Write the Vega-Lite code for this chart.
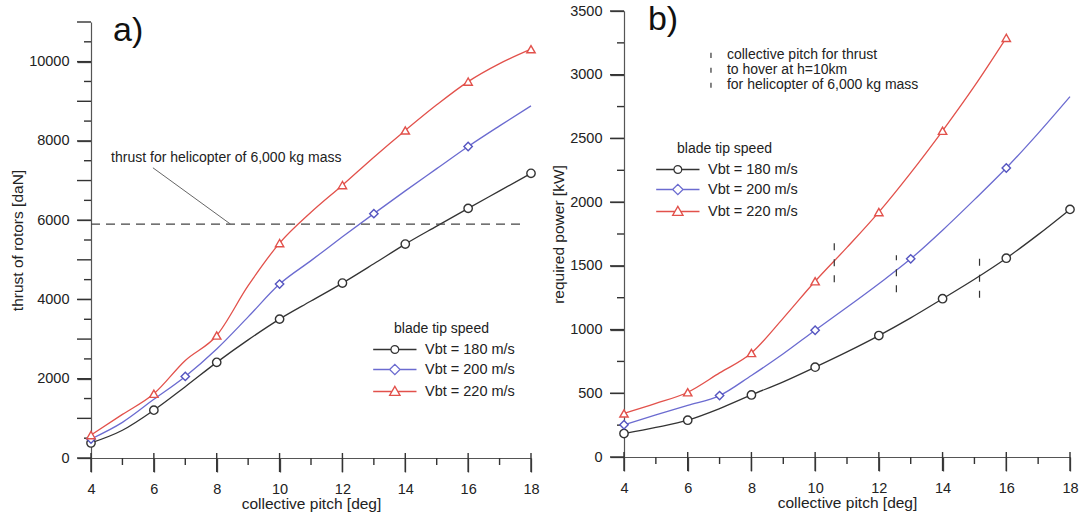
{
  "$schema": "https://vega.github.io/schema/vega-lite/v6.json",
  "padding": {"left": 10, "top": 3, "right": 5, "bottom": 0},
  "spacing": 11,
  "resolve": {"scale": {"color": "independent"}, "legend": {"color": "independent"}},
  "config": {
    "font": "Liberation Sans",
    "view": {"stroke": null},
    "axis": {"grid": false, "ticks": true, "tickColor": "#444", "tickWidth": 1.3, "domainColor": "#555", "domainWidth": 1.2, "labelFontSize": 14.5, "labelColor": "#222", "titleFontSize": 15.5, "titleFontWeight": "normal", "titleColor": "#222", "labelFont": "Liberation Sans", "titleFont": "Liberation Sans", "labelOverlap": false, "labelFlush": false},
    "legend": {"padding": 0, "titleFontSize": 14, "titleFontWeight": "normal", "titleColor": "#222", "titlePadding": 4, "titleAnchor": "start", "labelFontSize": 14.5, "labelColor": "#222", "symbolSize": 300, "symbolStrokeWidth": 1.3, "labelOffset": 12, "rowPadding": 4, "labelFont": "Liberation Sans", "titleFont": "Liberation Sans"}
  },
  "datasets": {
    "thrustLine": [
      {"pitch": 4, "value": 380, "speed": "180"}, {"pitch": 5, "value": 700, "speed": "180"}, {"pitch": 6, "value": 1207, "speed": "180"}, {"pitch": 7, "value": 1800, "speed": "180"}, {"pitch": 8, "value": 2413, "speed": "180"}, {"pitch": 9, "value": 2980, "speed": "180"}, {"pitch": 10, "value": 3504, "speed": "180"}, {"pitch": 11, "value": 3960, "speed": "180"}, {"pitch": 12, "value": 4413, "speed": "180"}, {"pitch": 13, "value": 4900, "speed": "180"}, {"pitch": 14, "value": 5397, "speed": "180"}, {"pitch": 15, "value": 5850, "speed": "180"}, {"pitch": 16, "value": 6298, "speed": "180"}, {"pitch": 17, "value": 6740, "speed": "180"}, {"pitch": 18, "value": 7182, "speed": "180"},
      {"pitch": 4, "value": 480, "speed": "200"}, {"pitch": 5, "value": 900, "speed": "200"}, {"pitch": 6, "value": 1480, "speed": "200"}, {"pitch": 7, "value": 2058, "speed": "200"}, {"pitch": 8, "value": 2750, "speed": "200"}, {"pitch": 9, "value": 3560, "speed": "200"}, {"pitch": 10, "value": 4388, "speed": "200"}, {"pitch": 11, "value": 4980, "speed": "200"}, {"pitch": 12, "value": 5580, "speed": "200"}, {"pitch": 13, "value": 6165, "speed": "200"}, {"pitch": 14, "value": 6740, "speed": "200"}, {"pitch": 15, "value": 7300, "speed": "200"}, {"pitch": 16, "value": 7860, "speed": "200"}, {"pitch": 17, "value": 8380, "speed": "200"}, {"pitch": 18, "value": 8884, "speed": "200"},
      {"pitch": 4, "value": 578, "speed": "220"}, {"pitch": 5, "value": 1100, "speed": "220"}, {"pitch": 6, "value": 1620, "speed": "220"}, {"pitch": 7, "value": 2460, "speed": "220"}, {"pitch": 8, "value": 3091, "speed": "220"}, {"pitch": 9, "value": 4347, "speed": "220"}, {"pitch": 10, "value": 5421, "speed": "220"}, {"pitch": 11, "value": 6200, "speed": "220"}, {"pitch": 12, "value": 6884, "speed": "220"}, {"pitch": 13, "value": 7590, "speed": "220"}, {"pitch": 14, "value": 8264, "speed": "220"}, {"pitch": 15, "value": 8910, "speed": "220"}, {"pitch": 16, "value": 9496, "speed": "220"}, {"pitch": 17, "value": 9950, "speed": "220"}, {"pitch": 18, "value": 10314, "speed": "220"}
    ],
    "thrustPts": [
      {"pitch": 4, "value": 380, "speed": "180"}, {"pitch": 6, "value": 1207, "speed": "180"}, {"pitch": 8, "value": 2413, "speed": "180"}, {"pitch": 10, "value": 3504, "speed": "180"}, {"pitch": 12, "value": 4413, "speed": "180"}, {"pitch": 14, "value": 5397, "speed": "180"}, {"pitch": 16, "value": 6298, "speed": "180"}, {"pitch": 18, "value": 7182, "speed": "180"},
      {"pitch": 4, "value": 480, "speed": "200"}, {"pitch": 7, "value": 2058, "speed": "200"}, {"pitch": 10, "value": 4388, "speed": "200"}, {"pitch": 13, "value": 6165, "speed": "200"}, {"pitch": 16, "value": 7860, "speed": "200"},
      {"pitch": 4, "value": 578, "speed": "220"}, {"pitch": 6, "value": 1620, "speed": "220"}, {"pitch": 8, "value": 3091, "speed": "220"}, {"pitch": 10, "value": 5421, "speed": "220"}, {"pitch": 12, "value": 6884, "speed": "220"}, {"pitch": 14, "value": 8264, "speed": "220"}, {"pitch": 16, "value": 9496, "speed": "220"}, {"pitch": 18, "value": 10314, "speed": "220"}
    ],
    "powerLine": [
      {"pitch": 4, "value": 184, "speed": "180"}, {"pitch": 5, "value": 232, "speed": "180"}, {"pitch": 6, "value": 289, "speed": "180"}, {"pitch": 7, "value": 380, "speed": "180"}, {"pitch": 8, "value": 487, "speed": "180"}, {"pitch": 9, "value": 590, "speed": "180"}, {"pitch": 10, "value": 705, "speed": "180"}, {"pitch": 11, "value": 825, "speed": "180"}, {"pitch": 12, "value": 953, "speed": "180"}, {"pitch": 13, "value": 1092, "speed": "180"}, {"pitch": 14, "value": 1242, "speed": "180"}, {"pitch": 15, "value": 1395, "speed": "180"}, {"pitch": 16, "value": 1560, "speed": "180"}, {"pitch": 17, "value": 1745, "speed": "180"}, {"pitch": 18, "value": 1943, "speed": "180"},
      {"pitch": 4, "value": 253, "speed": "200"}, {"pitch": 5, "value": 330, "speed": "200"}, {"pitch": 6, "value": 405, "speed": "200"}, {"pitch": 7, "value": 482, "speed": "200"}, {"pitch": 8, "value": 640, "speed": "200"}, {"pitch": 9, "value": 810, "speed": "200"}, {"pitch": 10, "value": 995, "speed": "200"}, {"pitch": 11, "value": 1175, "speed": "200"}, {"pitch": 12, "value": 1360, "speed": "200"}, {"pitch": 13, "value": 1555, "speed": "200"}, {"pitch": 14, "value": 1780, "speed": "200"}, {"pitch": 15, "value": 2020, "speed": "200"}, {"pitch": 16, "value": 2268, "speed": "200"}, {"pitch": 17, "value": 2540, "speed": "200"}, {"pitch": 18, "value": 2828, "speed": "200"},
      {"pitch": 4, "value": 342, "speed": "220"}, {"pitch": 5, "value": 420, "speed": "220"}, {"pitch": 6, "value": 508, "speed": "220"}, {"pitch": 7, "value": 660, "speed": "220"}, {"pitch": 8, "value": 816, "speed": "220"}, {"pitch": 9, "value": 1090, "speed": "220"}, {"pitch": 10, "value": 1379, "speed": "220"}, {"pitch": 11, "value": 1645, "speed": "220"}, {"pitch": 12, "value": 1922, "speed": "220"}, {"pitch": 13, "value": 2230, "speed": "220"}, {"pitch": 14, "value": 2560, "speed": "220"}, {"pitch": 15, "value": 2910, "speed": "220"}, {"pitch": 16, "value": 3289, "speed": "220"}
    ],
    "powerPts": [
      {"pitch": 4, "value": 184, "speed": "180"}, {"pitch": 6, "value": 289, "speed": "180"}, {"pitch": 8, "value": 487, "speed": "180"}, {"pitch": 10, "value": 705, "speed": "180"}, {"pitch": 12, "value": 953, "speed": "180"}, {"pitch": 14, "value": 1242, "speed": "180"}, {"pitch": 16, "value": 1560, "speed": "180"}, {"pitch": 18, "value": 1943, "speed": "180"},
      {"pitch": 4, "value": 253, "speed": "200"}, {"pitch": 7, "value": 482, "speed": "200"}, {"pitch": 10, "value": 995, "speed": "200"}, {"pitch": 13, "value": 1555, "speed": "200"}, {"pitch": 16, "value": 2268, "speed": "200"},
      {"pitch": 4, "value": 342, "speed": "220"}, {"pitch": 6, "value": 508, "speed": "220"}, {"pitch": 8, "value": 816, "speed": "220"}, {"pitch": 10, "value": 1379, "speed": "220"}, {"pitch": 12, "value": 1922, "speed": "220"}, {"pitch": 14, "value": 2560, "speed": "220"}, {"pitch": 16, "value": 3289, "speed": "220"}
    ]
  },
  "hconcat": [
    {
      "spacing": 2,
      "vconcat": [
        {
          "width": 440,
          "height": 1,
          "data": {"values": [{}]},
          "mark": {"type": "rule", "opacity": 0},
          "encoding": {}
        },
        {
          "width": 440,
          "height": 436,
          "layer": [
            {
              "data": {"name": "thrustLine"},
              "mark": {"type": "line", "interpolate": "monotone", "strokeWidth": 1.3},
              "encoding": {
                "x": {"field": "pitch", "type": "quantitative", "scale": {"domain": [4, 18], "nice": false},
                  "axis": {"orient": "bottom", "title": "collective pitch [deg]", "values": [4, 6, 8, 10, 12, 14, 16, 18], "tickSize": 14, "labelPadding": 10, "titlePadding": 1}},
                "y": {"field": "value", "type": "quantitative", "scale": {"domain": [0, 11000], "nice": false},
                  "axis": {"orient": "left", "title": "thrust of rotors [daN]", "format": "d", "values": [0, 1000, 2000, 3000, 4000, 5000, 6000, 7000, 8000, 9000, 10000, 11000], "tickSize": 14, "labelPadding": 8, "titlePadding": 3}},
                "color": {"field": "speed", "type": "nominal", "scale": {"domain": ["180", "200", "220"], "range": ["#333333", "#6b6bd0", "#e2514b"]},
                  "legend": {"title": "blade tip speed", "orient": "none", "legendX": 303, "legendY": 311, "labelExpr": "'Vbt = ' + datum.label + ' m/s'",
                    "encode": {"symbols": {"update": {"fill": {"value": "transparent"}, "shape": {"signal": "datum.value === '180' ? 'M-3.5,0H-1.45M-0.55,0H1.5M-1.45,0A0.45,0.45,0,1,0,-0.55,0A0.45,0.45,0,1,0,-1.45,0' : datum.value === '200' ? 'M-3.5,0H-1.6M-0.4,0H1.5M-1.6,0L-1,-0.6L-0.4,0L-1,0.6Z' : 'M-3.5,0H-1.343M-0.657,0H1.5M-1.6,0.45L-1,-0.6L-0.4,0.45Z'"}}}}}}
              }
            },
            {
              "data": {"values": [{"pitch": 4, "value": 126, "value2": -353}, {"pitch": 6, "value": 126, "value2": -353}, {"pitch": 8, "value": 126, "value2": -353}, {"pitch": 10, "value": 126, "value2": -353}, {"pitch": 12, "value": 126, "value2": -353}, {"pitch": 14, "value": 126, "value2": -353}, {"pitch": 16, "value": 126, "value2": -353}, {"pitch": 18, "value": 126, "value2": -353},
                {"pitch": 5, "value": 0, "value2": -177}, {"pitch": 7, "value": 0, "value2": -177}, {"pitch": 9, "value": 0, "value2": -177}, {"pitch": 11, "value": 0, "value2": -177}, {"pitch": 13, "value": 0, "value2": -177}, {"pitch": 15, "value": 0, "value2": -177}, {"pitch": 17, "value": 0, "value2": -177}]},
              "mark": {"type": "rule", "color": "#333", "strokeWidth": 1.4},
              "encoding": {"x": {"field": "pitch", "type": "quantitative"}, "y": {"field": "value", "type": "quantitative"}, "y2": {"field": "value2"}}
            },
            {
              "data": {"values": [{"pitch": 4, "pitch2": 3.555, "value": 0}, {"pitch": 4, "pitch2": 3.555, "value": 1000}, {"pitch": 4, "pitch2": 3.555, "value": 2000}, {"pitch": 4, "pitch2": 3.555, "value": 3000}, {"pitch": 4, "pitch2": 3.555, "value": 4000}, {"pitch": 4, "pitch2": 3.555, "value": 5000}, {"pitch": 4, "pitch2": 3.555, "value": 6000}, {"pitch": 4, "pitch2": 3.555, "value": 7000}, {"pitch": 4, "pitch2": 3.555, "value": 8000}, {"pitch": 4, "pitch2": 3.555, "value": 9000}, {"pitch": 4, "pitch2": 3.555, "value": 10000}, {"pitch": 4, "pitch2": 3.555, "value": 11000},
                {"pitch": 4, "pitch2": 3.777, "value": 500}, {"pitch": 4, "pitch2": 3.777, "value": 1500}, {"pitch": 4, "pitch2": 3.777, "value": 2500}, {"pitch": 4, "pitch2": 3.777, "value": 3500}, {"pitch": 4, "pitch2": 3.777, "value": 4500}, {"pitch": 4, "pitch2": 3.777, "value": 5500}, {"pitch": 4, "pitch2": 3.777, "value": 6500}, {"pitch": 4, "pitch2": 3.777, "value": 7500}, {"pitch": 4, "pitch2": 3.777, "value": 8500}, {"pitch": 4, "pitch2": 3.777, "value": 9500}, {"pitch": 4, "pitch2": 3.777, "value": 10500}]},
              "mark": {"type": "rule", "color": "#333", "strokeWidth": 1.4},
              "encoding": {"x": {"field": "pitch", "type": "quantitative"}, "x2": {"field": "pitch2"}, "y": {"field": "value", "type": "quantitative"}}
            },
            {
              "data": {"name": "thrustPts"},
              "transform": [{"filter": "datum.speed === '180'"}],
              "mark": {"type": "point", "shape": "circle", "filled": false, "fill": "white", "stroke": "#333333", "size": 70, "strokeWidth": 1.4, "opacity": 1},
              "encoding": {"x": {"field": "pitch", "type": "quantitative"}, "y": {"field": "value", "type": "quantitative"}}
            },
            {
              "data": {"name": "thrustPts"},
              "transform": [{"filter": "datum.speed === '200'"}],
              "mark": {"type": "point", "shape": "diamond", "filled": false, "fill": "white", "stroke": "#5555c0", "size": 70, "strokeWidth": 1.4, "opacity": 1},
              "encoding": {"x": {"field": "pitch", "type": "quantitative"}, "y": {"field": "value", "type": "quantitative"}}
            },
            {
              "data": {"name": "thrustPts"},
              "transform": [{"filter": "datum.speed === '220'"}],
              "mark": {"type": "point", "shape": "triangle-up", "filled": false, "fill": "white", "stroke": "#e2514b", "size": 70, "strokeWidth": 1.4, "opacity": 1},
              "encoding": {"x": {"field": "pitch", "type": "quantitative"}, "y": {"field": "value", "type": "quantitative"}}
            },
            {
              "data": {"values": [{"pitch": 4, "pitch2": 17.8, "value": 5900}]},
              "mark": {"type": "rule", "strokeDash": [9, 6], "color": "#444", "strokeWidth": 1.4},
              "encoding": {"x": {"field": "pitch", "type": "quantitative"}, "x2": {"field": "pitch2"}, "y": {"field": "value", "type": "quantitative"}}
            },
            {
              "data": {"values": [{"pitch": 5.97, "value": 7322, "pitch2": 8.44, "value2": 5900}]},
              "mark": {"type": "rule", "color": "#666", "strokeWidth": 1},
              "encoding": {"x": {"field": "pitch", "type": "quantitative"}, "x2": {"field": "pitch2"}, "y": {"field": "value", "type": "quantitative"}, "y2": {"field": "value2"}}
            },
            {
              "data": {"values": [{"pitch": 4.64, "value": 7570, "label": "thrust for helicopter of  6,000 kg mass"}]},
              "mark": {"type": "text", "align": "left", "baseline": "middle", "fontSize": 14, "color": "#222"},
              "encoding": {"x": {"field": "pitch", "type": "quantitative"}, "y": {"field": "value", "type": "quantitative"}, "text": {"field": "label"}}
            },
            {
              "data": {"values": [{"pitch": 4.7, "value": 10520, "label": "a)"}]},
              "mark": {"type": "text", "align": "left", "baseline": "alphabetic", "fontSize": 34, "color": "#111"},
              "encoding": {"x": {"field": "pitch", "type": "quantitative"}, "y": {"field": "value", "type": "quantitative"}, "text": {"field": "label"}}
            }
          ]
        }
      ]
    },
    {
      "width": 446,
      "height": 446,
      "layer": [
        {
          "data": {"name": "powerLine"},
          "mark": {"type": "line", "interpolate": "monotone", "strokeWidth": 1.3},
          "encoding": {
            "x": {"field": "pitch", "type": "quantitative", "scale": {"domain": [4, 18], "nice": false},
              "axis": {"orient": "bottom", "title": "collective pitch [deg]", "values": [4, 6, 8, 10, 12, 14, 16, 18], "tickSize": 14, "labelPadding": 10, "titlePadding": 1}},
            "y": {"field": "value", "type": "quantitative", "scale": {"domain": [0, 3500], "nice": false},
              "axis": {"orient": "left", "title": "required power [kW]", "format": "d", "values": [0, 500, 1000, 1500, 2000, 2500, 3000, 3500], "tickSize": 14, "labelPadding": 8, "titlePadding": 3}},
            "color": {"field": "speed", "type": "nominal", "scale": {"domain": ["180", "200", "220"], "range": ["#333333", "#6b6bd0", "#e2514b"]},
              "legend": {"title": "blade tip speed", "orient": "none", "legendX": 53, "legendY": 131, "labelExpr": "'Vbt = ' + datum.label + ' m/s'",
                "encode": {"symbols": {"update": {"fill": {"value": "transparent"}, "shape": {"signal": "datum.value === '180' ? 'M-3.5,0H-1.45M-0.55,0H1.5M-1.45,0A0.45,0.45,0,1,0,-0.55,0A0.45,0.45,0,1,0,-1.45,0' : datum.value === '200' ? 'M-3.5,0H-1.6M-0.4,0H1.5M-1.6,0L-1,-0.6L-0.4,0L-1,0.6Z' : 'M-3.5,0H-1.343M-0.657,0H1.5M-1.6,0.45L-1,-0.6L-0.4,0.45Z'"}}}}}}
          }
        },
        {
          "data": {"values": [{"pitch": 4, "value": 39, "value2": -110}, {"pitch": 6, "value": 39, "value2": -110}, {"pitch": 8, "value": 39, "value2": -110}, {"pitch": 10, "value": 39, "value2": -110}, {"pitch": 12, "value": 39, "value2": -110}, {"pitch": 14, "value": 39, "value2": -110}, {"pitch": 16, "value": 39, "value2": -110}, {"pitch": 18, "value": 39, "value2": -110},
            {"pitch": 5, "value": 0, "value2": -55}, {"pitch": 7, "value": 0, "value2": -55}, {"pitch": 9, "value": 0, "value2": -55}, {"pitch": 11, "value": 0, "value2": -55}, {"pitch": 13, "value": 0, "value2": -55}, {"pitch": 15, "value": 0, "value2": -55}, {"pitch": 17, "value": 0, "value2": -55}]},
          "mark": {"type": "rule", "color": "#333", "strokeWidth": 1.4},
          "encoding": {"x": {"field": "pitch", "type": "quantitative"}, "y": {"field": "value", "type": "quantitative"}, "y2": {"field": "value2"}}
        },
        {
          "data": {"values": [{"pitch": 4, "pitch2": 3.56, "value": 0}, {"pitch": 4, "pitch2": 3.56, "value": 500}, {"pitch": 4, "pitch2": 3.56, "value": 1000}, {"pitch": 4, "pitch2": 3.56, "value": 1500}, {"pitch": 4, "pitch2": 3.56, "value": 2000}, {"pitch": 4, "pitch2": 3.56, "value": 2500}, {"pitch": 4, "pitch2": 3.56, "value": 3000}, {"pitch": 4, "pitch2": 3.56, "value": 3500},
            {"pitch": 4, "pitch2": 3.78, "value": 250}, {"pitch": 4, "pitch2": 3.78, "value": 750}, {"pitch": 4, "pitch2": 3.78, "value": 1250}, {"pitch": 4, "pitch2": 3.78, "value": 1750}, {"pitch": 4, "pitch2": 3.78, "value": 2250}, {"pitch": 4, "pitch2": 3.78, "value": 2750}, {"pitch": 4, "pitch2": 3.78, "value": 3250}]},
          "mark": {"type": "rule", "color": "#333", "strokeWidth": 1.4},
          "encoding": {"x": {"field": "pitch", "type": "quantitative"}, "x2": {"field": "pitch2"}, "y": {"field": "value", "type": "quantitative"}}
        },
        {
          "data": {"name": "powerPts"},
          "transform": [{"filter": "datum.speed === '180'"}],
          "mark": {"type": "point", "shape": "circle", "filled": false, "fill": "white", "stroke": "#333333", "size": 70, "strokeWidth": 1.4, "opacity": 1},
          "encoding": {"x": {"field": "pitch", "type": "quantitative"}, "y": {"field": "value", "type": "quantitative"}}
        },
        {
          "data": {"name": "powerPts"},
          "transform": [{"filter": "datum.speed === '200'"}],
          "mark": {"type": "point", "shape": "diamond", "filled": false, "fill": "white", "stroke": "#5555c0", "size": 70, "strokeWidth": 1.4, "opacity": 1},
          "encoding": {"x": {"field": "pitch", "type": "quantitative"}, "y": {"field": "value", "type": "quantitative"}}
        },
        {
          "data": {"name": "powerPts"},
          "transform": [{"filter": "datum.speed === '220'"}],
          "mark": {"type": "point", "shape": "triangle-up", "filled": false, "fill": "white", "stroke": "#e2514b", "size": 70, "strokeWidth": 1.4, "opacity": 1},
          "encoding": {"x": {"field": "pitch", "type": "quantitative"}, "y": {"field": "value", "type": "quantitative"}}
        },
        {
          "data": {"values": [{"pitch": 10.6, "value": 1371, "value2": 1677}, {"pitch": 12.55, "value": 1292, "value2": 1583}, {"pitch": 15.16, "value": 1250, "value2": 1560}]},
          "mark": {"type": "rule", "strokeDash": [7, 9], "color": "#333", "strokeWidth": 1.2},
          "encoding": {"x": {"field": "pitch", "type": "quantitative"}, "y": {"field": "value", "type": "quantitative"}, "y2": {"field": "value2"}}
        },
        {
          "data": {"values": [{"pitch": 6.73, "value": 3132, "value2": 3172}, {"pitch": 6.73, "value": 3015, "value2": 3055}, {"pitch": 6.73, "value": 2897, "value2": 2937}]},
          "mark": {"type": "rule", "color": "#333", "strokeWidth": 1.2},
          "encoding": {"x": {"field": "pitch", "type": "quantitative"}, "y": {"field": "value", "type": "quantitative"}, "y2": {"field": "value2"}}
        },
        {
          "data": {"values": [{"pitch": 7.23, "value": 3152, "label": "collective pitch for thrust"}, {"pitch": 7.23, "value": 3035, "label": "to hover at h=10km"}, {"pitch": 7.23, "value": 2917, "label": "for helicopter of 6,000 kg mass"}]},
          "mark": {"type": "text", "align": "left", "baseline": "middle", "fontSize": 14, "color": "#222"},
          "encoding": {"x": {"field": "pitch", "type": "quantitative"}, "y": {"field": "value", "type": "quantitative"}, "text": {"field": "label"}}
        },
        {
          "data": {"values": [{"pitch": 4.75, "value": 3348, "label": "b)"}]},
          "mark": {"type": "text", "align": "left", "baseline": "alphabetic", "fontSize": 34, "color": "#111"},
          "encoding": {"x": {"field": "pitch", "type": "quantitative"}, "y": {"field": "value", "type": "quantitative"}, "text": {"field": "label"}}
        }
      ]
    }
  ]
}
